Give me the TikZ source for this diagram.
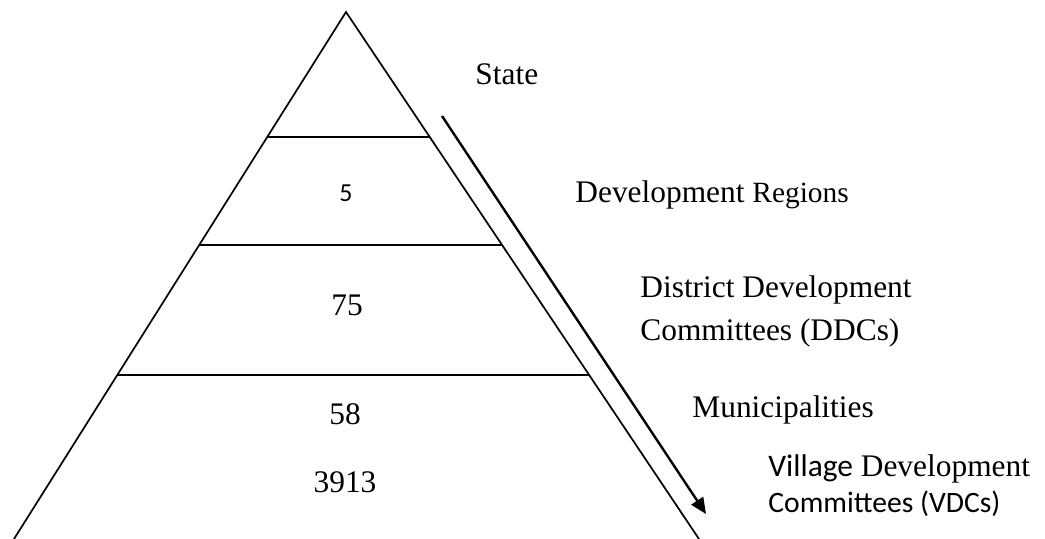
\documentclass[tikz,border=0pt]{standalone}
\usepackage{fontspec}
\setmainfont{Liberation Serif}
\newfontfamily\calibri{Carlito}
\usetikzlibrary{calc,arrows.meta}
\tikzset{
  edge/.style={line width=0.85pt, line cap=round},
  tier/.style={line width=0.95pt},
  flow/.style={line width=1.2pt, -{Triangle[length=8pt,width=7pt]}},
  lbl/.style={inner sep=0pt, anchor=base west, font=\fontsize{15.7pt}{21pt}\selectfont},
  num/.style={inner sep=0pt, anchor=base, font=\fontsize{15.7pt}{19pt}\selectfont},
}
\begin{document}
\begin{tikzpicture}[x=0.5pt,y=-0.5pt]
\useasboundingbox (0,0) rectangle (1045,539);
\coordinate (apex) at (346,12);
\coordinate (bl) at (14,539);
\coordinate (br) at (699,539);
\draw[edge] (bl) -- (apex) -- (br);
\coordinate (l1) at ($(apex)!0.2372!(bl)$);
\coordinate (r1) at ($(apex)!0.2372!(br)$);
\coordinate (l2) at ($(apex)!0.4421!(bl)$);
\coordinate (r2) at ($(apex)!0.4421!(br)$);
\coordinate (l3) at ($(apex)!0.6888!(bl)$);
\coordinate (r3) at ($(apex)!0.6888!(br)$);
\draw[tier] (l1) -- (r1);
\draw[tier] (l2) -- (r2);
\draw[tier] (l3) -- (r3);
\coordinate (as) at (442,116);
\coordinate (ae) at (706,514);
\draw[flow] (as) -- (ae);
% numbers
\node[num, font=\calibri\fontsize{13pt}{16pt}\selectfont] (n5) at (346,202) {5};
\node[num] (n75) at (347,316) {75};
\node[num] (n58) at (345,425) {58};
\node[num] (n3913) at (345,493) {3913};
% labels
\node[lbl] (state) at (475,85) {State};
\node[lbl] (dr) at (575,203) {Development {\fontsize{14.7pt}{18pt}\selectfont Regions}};
\node[lbl] (ddc) at (640,298) {District Development};
\node[lbl] (ddc2) at (640,341) {Committees (DDCs)};
\node[lbl] (mun) at (692,418) {Municipalities};
\node[lbl] (vdc) at (768,477) {{\calibri Village} Development};
\node[lbl, font=\calibri\fontsize{14.8pt}{18pt}\selectfont] (vdc2) at (768,513) {Committees (VDCs)};
\end{tikzpicture}
\end{document}
